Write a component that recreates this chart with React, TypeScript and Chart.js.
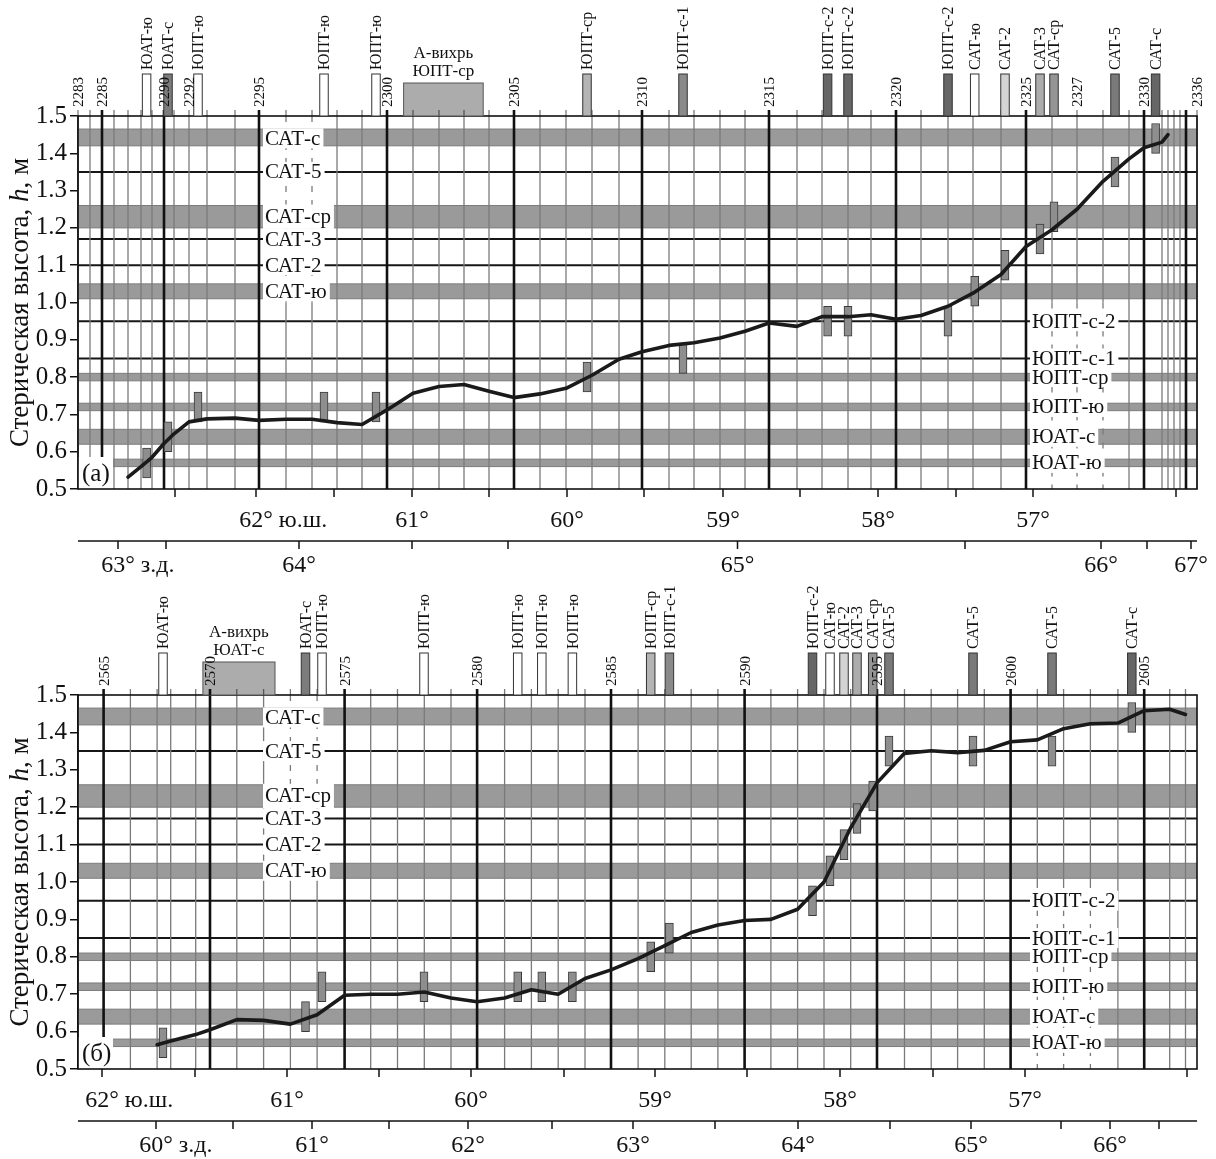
import React, { useEffect, useRef } from "react";
import { Chart, registerables } from "chart.js";

Chart.register(...registerables);

const SERIF = '"Liberation Serif", "Times New Roman", serif';

// ---------------- shared front levels (h, m) ----------------
const bandNames = ["САТ-с", "САТ-ср", "САТ-ю", "ЮПТ-ср", "ЮПТ-ю", "ЮАТ-с", "ЮАТ-ю"];
const bandLow = [1.42, 1.2, 1.01, 0.79, 0.71, 0.62, 0.56];
const bandHigh = [1.465, 1.26, 1.05, 0.81, 0.73, 0.66, 0.58];
const lineNames = ["САТ-5", "САТ-3", "САТ-2", "ЮПТ-с-2", "ЮПТ-с-1"];
const lineLevels = [1.35, 1.17, 1.1, 0.95, 0.85];
const frontKeys = ["ЮАТ-ю", "ЮАТ-с", "ЮПТ-ю", "ЮПТ-ср", "ЮПТ-с-1", "ЮПТ-с-2", "САТ-ю", "САТ-2", "САТ-3", "САТ-ср", "САТ-5", "САТ-с"];
const frontLevels = [0.57, 0.64, 0.72, 0.8, 0.85, 0.95, 1.03, 1.1, 1.17, 1.23, 1.35, 1.44];
const leftLabels = ["САТ-с", "САТ-5", "САТ-ср", "САТ-3", "САТ-2", "САТ-ю"];
const rightLabels = ["ЮПТ-с-2", "ЮПТ-с-1", "ЮПТ-ср", "ЮПТ-ю", "ЮАТ-с", "ЮАТ-ю"];

// ---------------- panel (а) ----------------
const stationsA = [2283, 2284, 2285, 2286, 2287, 2288, 2289, 2290, 2291, 2292, 2293, 2294, 2295, 2296, 2297, 2298, 2299, 2300, 2301, 2302, 2303, 2304, 2305, 2306, 2307, 2308, 2309, 2310, 2311, 2312, 2313, 2314, 2315, 2316, 2317, 2318, 2319, 2320, 2321, 2322, 2323, 2324, 2325, 2326, 2327, 2328, 2329, 2330, 2331, 2332, 2333, 2334, 2335, 2336];
const stationDistA = [0, 12, 24, 36, 50, 63, 74, 86, 96, 111, 129, 157, 181, 208, 234, 259, 284, 309, 335, 361, 386, 411, 436, 462, 488, 514, 541, 564, 591, 616, 642, 667, 691, 719, 744, 770, 793, 818, 843, 870, 895, 923, 948, 974, 999, 1025, 1051, 1066, 1084, 1090, 1096, 1102, 1108, 1119];
const labeledStationsA = [2283, 2285, 2290, 2292, 2295, 2300, 2305, 2310, 2315, 2320, 2325, 2327, 2330, 2336];
const curveStationsA = [2287, 2288, 2289, 2290, 2291, 2292, 2293, 2294, 2295, 2296, 2297, 2298, 2299, 2300, 2301, 2302, 2303, 2304, 2305, 2306, 2307, 2308, 2309, 2310, 2311, 2312, 2313, 2314, 2315, 2316, 2317, 2318, 2319, 2320, 2321, 2322, 2323, 2324, 2325, 2326, 2327, 2328, 2329, 2330, 2331, 2332];
const curveHA = [0.532, 0.56, 0.585, 0.622, 0.648, 0.68, 0.688, 0.69, 0.684, 0.687, 0.687, 0.678, 0.673, 0.712, 0.757, 0.775, 0.78, 0.762, 0.745, 0.755, 0.77, 0.805, 0.848, 0.868, 0.885, 0.892, 0.905, 0.923, 0.945, 0.936, 0.962, 0.962, 0.967, 0.955, 0.965, 0.99, 1.025, 1.075, 1.15, 1.195, 1.25, 1.325, 1.385, 1.415, 1.43, 1.45];
const frontNamesA = ["ЮАТ-ю", "ЮАТ-с", "ЮПТ-ю", "ЮПТ-ю", "ЮПТ-ю", "ЮПТ-ср", "ЮПТ-с-1", "ЮПТ-с-2", "ЮПТ-с-2", "ЮПТ-с-2", "САТ-ю", "САТ-2", "САТ-3", "САТ-ср", "САТ-5", "САТ-с"];
const frontPosA = [68.6, 90, 120, 246, 298, 509, 605, 749.6, 770, 870, 896.7, 927, 962, 976, 1037, 1077.6];
const eddyRangeA = [325.6, 405.2];
const eddyLabelA = ["А-вихрь", "ЮПТ-ср"];
const latPosA = [97, 178, 256, 334, 411, 489, 566, 645, 722, 800, 878, 955, 1098];
const latLabelA = ["", "62° ю.ш.", "", "61°", "", "60°", "", "59°", "", "58°", "", "57°", ""];
const lonPosA = [40, 88, 221, 334, 430, 659.5, 887, 1023, 1069, 1113];
const lonLabelA = ["63° з.д.", "", "64°", "", "", "65°", "", "66°", "", "67°"];

// ---------------- panel (б) ----------------
const stationsB = [2565, 2566, 2567, 2568, 2569, 2570, 2571, 2572, 2573, 2574, 2575, 2576, 2577, 2578, 2579, 2580, 2581, 2582, 2583, 2584, 2585, 2586, 2587, 2588, 2589, 2590, 2591, 2592, 2593, 2594, 2595, 2596, 2597, 2598, 2599, 2600, 2601, 2602, 2603, 2604, 2605, 2606, 2607];
const stationDistB = [25.6, 52.4, 79.1, 92.7, 117.7, 132, 158.8, 185.6, 212.4, 239.1, 266.6, 292.7, 319.5, 346.3, 373, 399.1, 426.6, 453.4, 480.2, 507, 533, 560.1, 586.8, 613.2, 639.9, 666.6, 692.9, 719.6, 746, 772.7, 799, 826.5, 853.2, 879.6, 906.3, 932.6, 959.3, 985.6, 1012.4, 1039.9, 1066.2, 1091.7, 1107.5];
const labeledStationsB = [2565, 2570, 2575, 2580, 2585, 2590, 2595, 2600, 2605];
const curveStationsB = [2567, 2568, 2569, 2570, 2571, 2572, 2573, 2574, 2575, 2576, 2577, 2578, 2579, 2580, 2581, 2582, 2583, 2584, 2585, 2586, 2587, 2588, 2589, 2590, 2591, 2592, 2593, 2594, 2595, 2596, 2597, 2598, 2599, 2600, 2601, 2602, 2603, 2604, 2605, 2606, 2607];
const curveHB = [0.565, 0.575, 0.592, 0.605, 0.632, 0.63, 0.62, 0.645, 0.697, 0.7, 0.7, 0.706, 0.69, 0.68, 0.69, 0.712, 0.7, 0.742, 0.765, 0.795, 0.83, 0.865, 0.885, 0.897, 0.9, 0.927, 1.0, 1.145, 1.265, 1.344, 1.351, 1.346, 1.352, 1.375, 1.38, 1.41, 1.423, 1.425, 1.458, 1.462, 1.448];
const frontNamesB = ["ЮАТ-ю", "ЮАТ-с", "ЮПТ-ю", "ЮПТ-ю", "ЮПТ-ю", "ЮПТ-ю", "ЮПТ-ю", "ЮПТ-ср", "ЮПТ-с-1", "ЮПТ-с-2", "САТ-ю", "САТ-2", "САТ-3", "САТ-ср", "САТ-5", "САТ-5", "САТ-5", "САТ-с"];
const frontPosB = [85, 227.5, 244, 346, 439.7, 463.8, 494.4, 572.7, 591.4, 734.5, 752, 766, 779, 794.7, 811, 895, 974, 1053.8];
const eddyRangeB = [124.9, 197];
const eddyLabelB = ["А-вихрь", "ЮАТ-с"];
const latPosB = [24, 117, 209, 301, 393, 486, 577, 669, 762, 855, 947, 1109];
const latLabelB = ["62° ю.ш.", "", "61°", "", "60°", "", "59°", "", "58°", "", "57°", ""];
const lonPosB = [78, 155, 234, 311, 390, 474, 555, 637, 720, 812, 893, 983, 1032, 1081];
const lonLabelB = ["60° з.д.", "", "61°", "", "62°", "", "63°", "", "64°", "", "65°", "", "66°", ""];

// ---------------- styles ----------------
const boxFill: Record<string, string> = {
  "ЮАТ-ю": "#ffffff", "ЮАТ-с": "#7c7c7c", "ЮПТ-ю": "#ffffff", "ЮПТ-ср": "#b4b4b4",
  "ЮПТ-с-1": "#8a8a8a", "ЮПТ-с-2": "#666666", "САТ-ю": "#ffffff", "САТ-2": "#d4d4d4",
  "САТ-3": "#acacac", "САТ-ср": "#959595", "САТ-5": "#7a7a7a", "САТ-с": "#666666",
};
const X_MAX = 1119;
const LEFT_COL = { from: 186, to: 258, top: 1.5, bottom: 1.0, labelAt: 185 };
const RIGHT_COL = { from: 952, to: 1034, top: 1.0, bottom: 0.5, labelAt: 952 };

type PanelCfg = {
  tag: string;
  stations: number[];
  dist: number[];
  labeled: number[];
  curveSt: number[];
  curveH: number[];
  fronts: string[];
  frontPos: number[];
  eddy: number[];
  eddyLabel: string[];
  latPos: number[];
  latLabel: string[];
  lonPos: number[];
  lonLabel: string[];
  padTop: number;
  padBottom: number;
  height: number;
  top: number;
};

const panelA: PanelCfg = {
  tag: "(а)", stations: stationsA, dist: stationDistA, labeled: labeledStationsA,
  curveSt: curveStationsA, curveH: curveHA, fronts: frontNamesA, frontPos: frontPosA,
  eddy: eddyRangeA, eddyLabel: eddyLabelA, latPos: latPosA, latLabel: latLabelA,
  lonPos: lonPosA, lonLabel: lonLabelA, padTop: 116, padBottom: 96, height: 585, top: 0,
};
const panelB: PanelCfg = {
  tag: "(б)", stations: stationsB, dist: stationDistB, labeled: labeledStationsB,
  curveSt: curveStationsB, curveH: curveHB, fronts: frontNamesB, frontPos: frontPosB,
  eddy: eddyRangeB, eddyLabel: eddyLabelB, latPos: latPosB, latLabel: latLabelB,
  lonPos: lonPosB, lonLabel: lonLabelB, padTop: 110, padBottom: 90, height: 574, top: 585,
};

const levelOf = (name: string) => frontLevels[frontKeys.indexOf(name)];

function sectionPlugin(cfg: PanelCfg) {
  const distOf = (s: number) => cfg.dist[cfg.stations.indexOf(s)];
  return {
    id: "section",
    beforeDraw(chart: any) {
      const { ctx, width, height } = chart;
      ctx.save();
      ctx.fillStyle = "#ffffff";
      ctx.fillRect(0, 0, width, height);
      ctx.restore();
    },
    beforeDatasetsDraw(chart: any) {
      const { ctx, chartArea: a } = chart;
      const x = chart.scales.x;
      const y = chart.scales.y;
      ctx.save();
      // bands
      bandNames.forEach((_, i) => {
        const y1 = y.getPixelForValue(bandHigh[i]);
        const y2 = y.getPixelForValue(bandLow[i]);
        ctx.fillStyle = "#9a9a9a";
        ctx.fillRect(a.left, y1, a.right - a.left, y2 - y1);
        ctx.strokeStyle = "#7c7c7c";
        ctx.lineWidth = 1;
        ctx.beginPath();
        ctx.moveTo(a.left, y1); ctx.lineTo(a.right, y1);
        ctx.moveTo(a.left, y2); ctx.lineTo(a.right, y2);
        ctx.stroke();
      });
      // level lines
      lineLevels.forEach((v) => {
        const py = y.getPixelForValue(v);
        ctx.strokeStyle = "#161616";
        ctx.lineWidth = 2;
        ctx.beginPath();
        ctx.moveTo(a.left, py); ctx.lineTo(a.right, py);
        ctx.stroke();
      });
      // station lines
      const cols = [LEFT_COL, RIGHT_COL];
      cfg.stations.forEach((s, i) => {
        const d = cfg.dist[i];
        const px = x.getPixelForValue(d);
        const bold = s % 5 === 0;
        ctx.strokeStyle = bold ? "#111111" : "#7a7a7a";
        ctx.lineWidth = bold ? 2.6 : 1.3;
        const col = cols.find((c) => d >= c.from && d <= c.to);
        const seg = (y0: number, y1: number, dashed: boolean) => {
          ctx.setLineDash(dashed ? [6, 8] : []);
          ctx.beginPath();
          ctx.moveTo(px, y0); ctx.lineTo(px, y1);
          ctx.stroke();
        };
        if (!col) {
          seg(a.top - 6, a.bottom, false);
        } else {
          const ct = y.getPixelForValue(col.top);
          const cb = y.getPixelForValue(col.bottom);
          seg(a.top - 6, ct, false);
          seg(ct, cb, true);
          seg(cb, a.bottom, false);
        }
      });
      ctx.setLineDash([]);
      // column labels
      const drawLabels = (names: string[], at: number) => {
        ctx.font = `21px ${SERIF}`;
        const x0 = x.getPixelForValue(at);
        names.forEach((n) => {
          const yc = y.getPixelForValue(levelOf(n));
          const bi = bandNames.indexOf(n);
          const bh = bi >= 0 ? Math.abs(y.getPixelForValue(bandLow[bi]) - y.getPixelForValue(bandHigh[bi])) : 0;
          const h = Math.max(20, bh + 2);
          const w = ctx.measureText(n).width + 5;
          ctx.fillStyle = "#ffffff";
          ctx.fillRect(x0, yc - h / 2, w, h);
          ctx.fillStyle = "#111111";
          ctx.textAlign = "left";
          ctx.textBaseline = "middle";
          ctx.fillText(n, x0 + 2, yc + 1);
        });
      };
      drawLabels(leftLabels, LEFT_COL.labelAt);
      drawLabels(rightLabels, RIGHT_COL.labelAt);
      // panel tag
      ctx.fillStyle = "#ffffff";
      const tagRight = x.getPixelForValue(35);
      ctx.fillRect(a.left, a.bottom - 32, tagRight - a.left, 32);
      ctx.fillStyle = "#111111";
      ctx.font = `25px ${SERIF}`;
      ctx.textAlign = "left";
      ctx.textBaseline = "middle";
      ctx.fillText(cfg.tag, a.left + 4, a.bottom - 15);
      ctx.restore();
    },
    afterDatasetsDraw(chart: any) {
      const { ctx, chartArea: a } = chart;
      ctx.save();
      ctx.strokeStyle = "#111111";
      ctx.lineWidth = 1.6;
      ctx.strokeRect(a.left, a.top, a.right - a.left, a.bottom - a.top);
      ctx.restore();
    },
    afterDraw(chart: any) {
      const { ctx, chartArea: a } = chart;
      const x = chart.scales.x;
      ctx.save();
      const top = a.top;
      const boxTop = top - 42;
      const eddyTop = top - 33;
      // eddy box
      const ex1 = x.getPixelForValue(cfg.eddy[0]);
      const ex2 = x.getPixelForValue(cfg.eddy[1]);
      ctx.fillStyle = "#acacac";
      ctx.fillRect(ex1, eddyTop, ex2 - ex1, top - eddyTop);
      ctx.strokeStyle = "#555555";
      ctx.lineWidth = 1;
      ctx.strokeRect(ex1, eddyTop, ex2 - ex1, top - eddyTop);
      ctx.fillStyle = "#111111";
      ctx.font = `17px ${SERIF}`;
      ctx.textAlign = "center";
      ctx.textBaseline = "bottom";
      const ecx = (ex1 + ex2) / 2;
      ctx.fillText(cfg.eddyLabel[0], ecx, eddyTop - 21);
      ctx.fillText(cfg.eddyLabel[1], ecx, eddyTop - 3);
      // station ticks over the eddy box
      cfg.stations.forEach((s, i) => {
        const px = x.getPixelForValue(cfg.dist[i]);
        if (px > ex1 && px < ex2) {
          ctx.strokeStyle = s % 5 === 0 ? "#111111" : "#555555";
          ctx.lineWidth = s % 5 === 0 ? 2.6 : 1.3;
          ctx.beginPath();
          ctx.moveTo(px, top - 6); ctx.lineTo(px, top);
          ctx.stroke();
        }
      });
      // front boxes + rotated names
      cfg.fronts.forEach((n, i) => {
        const cx = x.getPixelForValue(cfg.frontPos[i]);
        ctx.fillStyle = boxFill[n];
        ctx.fillRect(cx - 4.25, boxTop, 8.5, top - boxTop);
        ctx.strokeStyle = "#333333";
        ctx.lineWidth = 1;
        ctx.strokeRect(cx - 4.25, boxTop, 8.5, top - boxTop);
        ctx.save();
        ctx.translate(cx, boxTop - 4);
        ctx.rotate(-Math.PI / 2);
        ctx.fillStyle = "#111111";
        ctx.font = `16px ${SERIF}`;
        ctx.textAlign = "left";
        ctx.textBaseline = "middle";
        ctx.fillText(n, 0, 1);
        ctx.restore();
      });
      // station numbers
      cfg.labeled.forEach((s) => {
        const cx = x.getPixelForValue(distOf(s));
        ctx.save();
        ctx.translate(cx, top - 9);
        ctx.rotate(-Math.PI / 2);
        ctx.fillStyle = "#111111";
        ctx.font = `15px ${SERIF}`;
        ctx.textAlign = "left";
        ctx.textBaseline = "middle";
        ctx.fillText(String(s), 0, 1);
        ctx.restore();
      });
      // bottom axes (latitude on the frame, longitude on a separate line)
      const b = a.bottom;
      const drawAxisLabel = (label: string, px: number, py: number) => {
        if (!label) return;
        const head = label.split(" ")[0];
        const wh = ctx.measureText(head).width;
        ctx.textAlign = "left";
        ctx.fillText(label, px - wh / 2, py);
      };
      ctx.strokeStyle = "#111111";
      ctx.lineWidth = 1.5;
      ctx.fillStyle = "#111111";
      ctx.font = `24px ${SERIF}`;
      ctx.textBaseline = "middle";
      cfg.latPos.forEach((p, i) => {
        const px = x.getPixelForValue(p);
        ctx.beginPath();
        ctx.moveTo(px, b); ctx.lineTo(px, b + 8);
        ctx.stroke();
        drawAxisLabel(cfg.latLabel[i], px, b + 32);
      });
      const ly = b + 52;
      ctx.beginPath();
      ctx.moveTo(a.left, ly); ctx.lineTo(a.right, ly);
      ctx.stroke();
      cfg.lonPos.forEach((p, i) => {
        const px = x.getPixelForValue(p);
        ctx.beginPath();
        ctx.moveTo(px, ly); ctx.lineTo(px, ly + 8);
        ctx.stroke();
        drawAxisLabel(cfg.lonLabel[i], px, ly + 25);
      });
      // y title
      const parts: [string, string][] = [["Стерическая высота, ", "normal"], ["h", "italic"], [", м", "normal"]];
      ctx.save();
      ctx.translate(21, (a.top + a.bottom) / 2);
      ctx.rotate(-Math.PI / 2);
      let total = 0;
      const widths = parts.map(([t, st]) => {
        ctx.font = `${st} 27px ${SERIF}`;
        const w = ctx.measureText(t).width;
        total += w;
        return w;
      });
      let cx = -total / 2;
      parts.forEach(([t, st], i) => {
        ctx.font = `${st} 27px ${SERIF}`;
        ctx.textAlign = "left";
        ctx.textBaseline = "middle";
        ctx.fillText(t, cx, 0);
        cx += widths[i];
      });
      ctx.restore();
      ctx.restore();
    },
  };
}

function makeConfig(cfg: PanelCfg): any {
  const distOf = (s: number) => cfg.dist[cfg.stations.indexOf(s)];
  const curve = cfg.curveSt.map((s, i) => ({ x: distOf(s), y: cfg.curveH[i] }));
  const markers = cfg.fronts.map((n, i) => ({ x: cfg.frontPos[i], y: [levelOf(n) - 0.04, levelOf(n) + 0.04] }));
  return {
    type: "bar",
    data: {
      datasets: [
        {
          type: "line", data: curve, borderColor: "#1a1a1a", borderWidth: 3.6,
          pointRadius: 0, tension: 0, order: 0, borderJoinStyle: "round", borderCapStyle: "round",
        },
        {
          type: "bar", data: markers, backgroundColor: "#8e8e8e", borderColor: "#3a3a3a",
          borderWidth: 1, borderSkipped: false, barThickness: 8, order: 1,
        },
      ],
    },
    options: {
      responsive: false,
      maintainAspectRatio: false,
      animation: false,
      devicePixelRatio: 1,
      events: [],
      layout: { padding: { left: 0, right: 19, top: cfg.padTop, bottom: cfg.padBottom } },
      plugins: { legend: { display: false }, tooltip: { enabled: false }, title: { display: false } },
      scales: {
        x: { type: "linear", min: 0, max: X_MAX, display: false, offset: false },
        y: {
          type: "linear", min: 0.5, max: 1.5,
          afterFit: (s: any) => { s.width = 78; },
          ticks: {
            stepSize: 0.1, color: "#111111", padding: 3,
            font: { family: SERIF, size: 25 },
            callback: (v: any) => Number(v).toFixed(1),
          },
          grid: { drawOnChartArea: false, drawTicks: true, tickLength: 8, color: "#111111", lineWidth: 1.5 },
          border: { display: true, color: "#111111", width: 1.6 },
        },
      },
    },
    plugins: [sectionPlugin(cfg)],
  };
}

function Panel({ cfg }: { cfg: PanelCfg }) {
  const ref = useRef<HTMLCanvasElement>(null);
  useEffect(() => {
    const chart = new Chart(ref.current as HTMLCanvasElement, makeConfig(cfg));
    return () => chart.destroy();
  }, [cfg]);
  return (
    <canvas
      ref={ref}
      width={1216}
      height={cfg.height}
      style={{ position: "absolute", left: 0, top: cfg.top, width: 1216, height: cfg.height, display: "block" }}
    />
  );
}

export default function App() {
  return (
    <div style={{ position: "absolute", left: 0, top: 0, width: 1216, height: 1159, background: "#ffffff", overflow: "hidden" }}>
      <Panel cfg={panelA} />
      <Panel cfg={panelB} />
    </div>
  );
}
